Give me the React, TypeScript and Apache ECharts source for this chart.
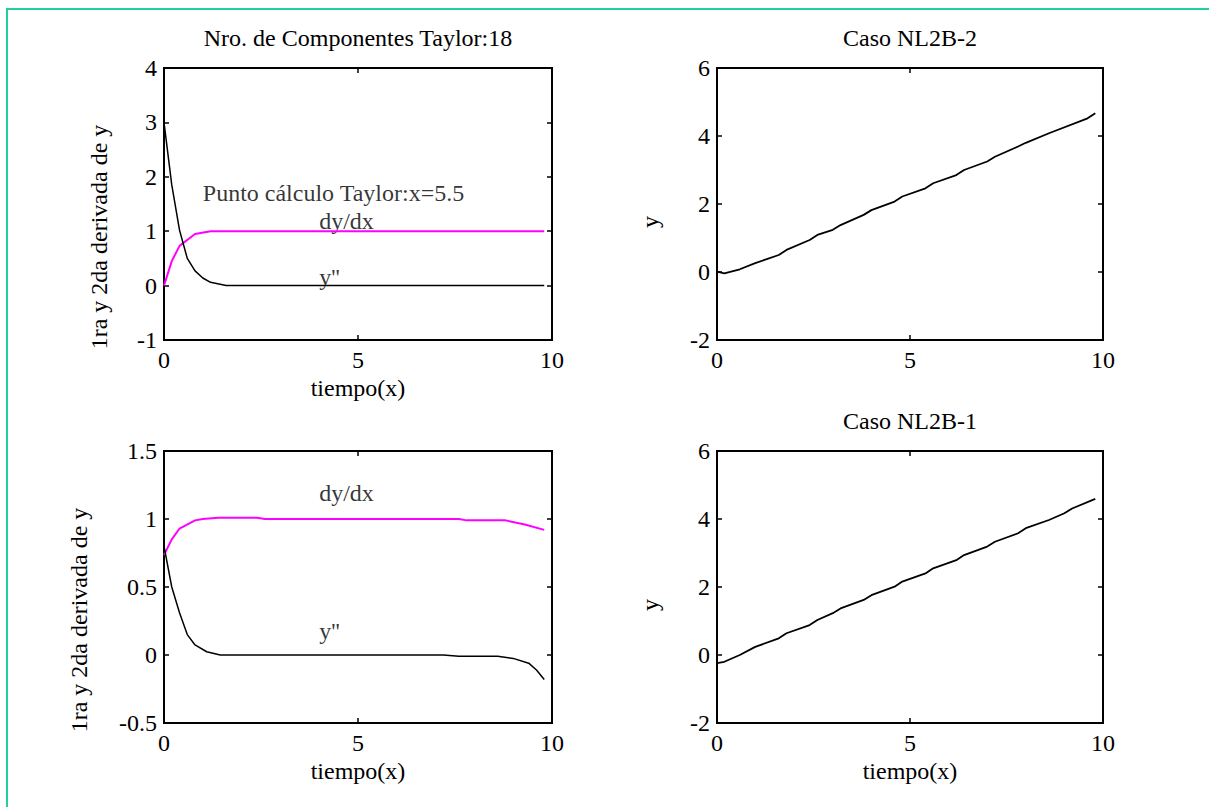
import React, { useEffect, useRef } from "react";
import * as echarts from "echarts";

// ---- Data ----
// Top-left: y'' (black) and dy/dx (magenta)
const TL_YPP_X = [0, 0.2, 0.4, 0.6, 0.8, 1.0, 1.2, 1.6, 9.8];
const TL_YPP_Y = [3.0, 1.85, 1.02, 0.5, 0.27, 0.14, 0.06, 0.0, 0.0];
const TL_DY_X = [0, 0.2, 0.4, 0.8, 1.2, 9.8];
const TL_DY_Y = [0, 0.45, 0.73, 0.95, 1.0, 1.0];

// Bottom-left
const BL_YPP_X = [0, 0.2, 0.4, 0.6, 0.8, 1.1, 1.45, 7.2, 7.6, 8.6, 9.0, 9.4, 9.6, 9.8];
const BL_YPP_Y = [0.8, 0.5, 0.31, 0.15, 0.074, 0.024, 0, 0, -0.01, -0.01, -0.025, -0.06, -0.11, -0.18];
const BL_DY_X = [0, 0.2, 0.4, 0.8, 1.0, 1.4, 2.4, 2.6, 7.6, 7.8, 8.8, 9.3, 9.8];
const BL_DY_Y = [0.735, 0.85, 0.93, 0.99, 1.0, 1.01, 1.01, 1.0, 1.0, 0.99, 0.99, 0.96, 0.92];

// Top-right: Caso NL2B-2
const TR_X = [0, 0.19, 0.59, 0.99, 1.6, 1.8, 2.4, 2.6, 3.0, 3.2, 3.8, 4.0, 4.6, 4.8, 5.4, 5.6, 6.2, 6.4, 7.0, 7.2, 7.8, 8.0, 8.6, 9.6, 9.8];
const TR_Y = [0.01, -0.04, 0.08, 0.26, 0.5, 0.65, 0.94, 1.09, 1.24, 1.38, 1.68, 1.82, 2.07, 2.22, 2.46, 2.61, 2.85, 3.0, 3.25, 3.39, 3.69, 3.8, 4.08, 4.52, 4.67];

// Bottom-right: Caso NL2B-1
const BR_X = [0, 0.19, 0.59, 0.99, 1.6, 1.8, 2.4, 2.6, 3.0, 3.2, 3.8, 4.0, 4.6, 4.8, 5.4, 5.6, 6.2, 6.4, 7.0, 7.2, 7.8, 8.0, 8.6, 9.0, 9.2, 9.8];
const BR_Y = [-0.24, -0.2, 0.0, 0.24, 0.49, 0.64, 0.88, 1.03, 1.23, 1.37, 1.62, 1.76, 2.01, 2.16, 2.4, 2.55, 2.79, 2.94, 3.19, 3.33, 3.58, 3.73, 3.97, 4.17, 4.31, 4.59];

// Axis settings
const X_RANGE = [0, 10, 5];
const TL_Y_RANGE = [-1, 4, 1];
const BL_Y_RANGE = [-0.5, 1.5, 0.5];
const R_Y_RANGE = [-2, 6, 2];

// Text
const TITLES = ["Nro. de Componentes Taylor:18", "Caso NL2B-2", "", "Caso NL2B-1"];
const XLABEL = "tiempo(x)";
const YLABEL_LEFT = "1ra y 2da derivada de y";
const YLABEL_RIGHT = "y";
const ANNOT_TL = [
  { text: "Punto cálculo Taylor:x=5.5", x: 1.0, y: 1.7 },
  { text: "dy/dx", x: 4.0, y: 1.18 },
  { text: "y''", x: 4.0, y: 0.15 },
];
const ANNOT_BL = [
  { text: "dy/dx", x: 4.0, y: 1.19 },
  { text: "y''", x: 4.0, y: 0.18 },
];

const FONT = "'Liberation Serif', 'Times New Roman', serif";
const FS = 24;
const MAGENTA = "#ff00ff";

function zip(xs: number[], ys: number[]) {
  return xs.map((x, i) => [x, ys[i]]);
}

export default function App() {
  const ref = useRef<HTMLDivElement>(null);
  useEffect(() => {
    if (!ref.current) return;
    const chart = echarts.init(ref.current, undefined, { renderer: "svg" });

    const grids = [
      { left: 164, top: 68, width: 388, height: 272 },
      { left: 717, top: 68, width: 386, height: 272 },
      { left: 164, top: 451, width: 388, height: 272 },
      { left: 717, top: 451, width: 386, height: 272 },
    ];
    const yRanges = [TL_Y_RANGE, R_Y_RANGE, BL_Y_RANGE, R_Y_RANGE];
    const hasXName = [true, false, true, true];
    const tick = { show: true, inside: true, length: 5, lineStyle: { color: "#000", width: 1.5 } };

    const xAxis: any[] = [];
    const yAxis: any[] = [];
    grids.forEach((_, i) => {
      const common = {
        type: "value",
        gridIndex: i,
        min: X_RANGE[0],
        max: X_RANGE[1],
        interval: X_RANGE[2],
        axisLine: { show: false, onZero: false },
        splitLine: { show: false },
        axisTick: tick,
      };
      xAxis.push({
        ...common,
        position: "bottom",
        axisLabel: {
          show: true, color: "#000", fontSize: FS, fontFamily: FONT, margin: 8,
          showMinLabel: true, showMaxLabel: true,
        },
        name: hasXName[i] ? XLABEL : "",
        nameLocation: "middle",
        nameGap: 36,
        nameTextStyle: { color: "#000", fontSize: FS, fontFamily: FONT },
      });
      xAxis.push({ ...common, position: "top", axisLabel: { show: false } });
      const yr = yRanges[i];
      const ycommon = {
        type: "value",
        gridIndex: i,
        min: yr[0],
        max: yr[1],
        interval: yr[2],
        axisLine: { show: false, onZero: false },
        splitLine: { show: false },
        axisTick: tick,
      };
      yAxis.push({
        ...ycommon,
        position: "left",
        axisLabel: {
          show: true, color: "#000", fontSize: FS, fontFamily: FONT, margin: 7,
          showMinLabel: true, showMaxLabel: true,
        },
      });
      yAxis.push({ ...ycommon, position: "right", axisLabel: { show: false } });
    });

    const lineSeries = (gi: number, data: number[][], color: string, width: number) => ({
      type: "line",
      xAxisIndex: gi * 2,
      yAxisIndex: gi * 2,
      data,
      showSymbol: false,
      symbol: "none",
      silent: true,
      lineStyle: { color, width },
    });
    const annotSeries = (gi: number, a: { text: string; x: number; y: number }) => ({
      type: "scatter",
      xAxisIndex: gi * 2,
      yAxisIndex: gi * 2,
      symbolSize: 0,
      silent: true,
      data: [[a.x, a.y]],
      label: {
        show: true,
        position: "right",
        distance: 0,
        formatter: a.text,
        color: "#000",
        fontSize: FS,
        fontFamily: FONT,
      },
    });

    const series: any[] = [
      lineSeries(0, zip(TL_DY_X, TL_DY_Y), MAGENTA, 2),
      lineSeries(0, zip(TL_YPP_X, TL_YPP_Y), "#000", 1.5),
      lineSeries(1, zip(TR_X, TR_Y), "#000", 1.8),
      lineSeries(2, zip(BL_DY_X, BL_DY_Y), MAGENTA, 2),
      lineSeries(2, zip(BL_YPP_X, BL_YPP_Y), "#000", 1.5),
      lineSeries(3, zip(BR_X, BR_Y), "#000", 1.8),
      ...ANNOT_TL.map((a) => annotSeries(0, a)),
      ...ANNOT_BL.map((a) => annotSeries(2, a)),
    ];

    const textStyle = (text: string) => ({
      text,
      fill: "#000",
      fontSize: FS,
      fontFamily: FONT,
      align: "center",
      verticalAlign: "middle",
    });

    const graphic: any[] = [
      {
        type: "rect",
        silent: true,
        shape: { x: 7, y: 9, width: 1400, height: 1000 },
        style: { fill: "none", stroke: "#22cfa3", lineWidth: 2 },
      },
    ];
    grids.forEach((g, i) => {
      if (TITLES[i]) {
        graphic.push({
          type: "text",
          x: g.left + g.width / 2,
          y: g.top - 30,
          style: textStyle(TITLES[i]),
        });
      }
    });
    const ylabelPos = [
      { x: 99, y: 237, t: YLABEL_LEFT },
      { x: 650, y: 222, t: YLABEL_RIGHT },
      { x: 79, y: 620, t: YLABEL_LEFT },
      { x: 650, y: 605, t: YLABEL_RIGHT },
    ];
    ylabelPos.forEach((p) => {
      graphic.push({
        type: "text",
        x: p.x,
        y: p.y,
        rotation: Math.PI / 2,
        style: textStyle(p.t),
      });
    });

    chart.setOption({
      animation: false,
      backgroundColor: "#fff",
      grid: grids.map((g) => ({
        ...g,
        show: true,
        borderColor: "#000",
        borderWidth: 2,
        backgroundColor: "transparent",
        containLabel: false,
      })),
      xAxis,
      yAxis,
      series,
      graphic,
    });
    return () => chart.dispose();
  }, []);

  return (
    <div
      ref={ref}
      style={{ position: "fixed", left: 0, top: 0, width: 1209, height: 807, background: "#fff" }}
    />
  );
}
